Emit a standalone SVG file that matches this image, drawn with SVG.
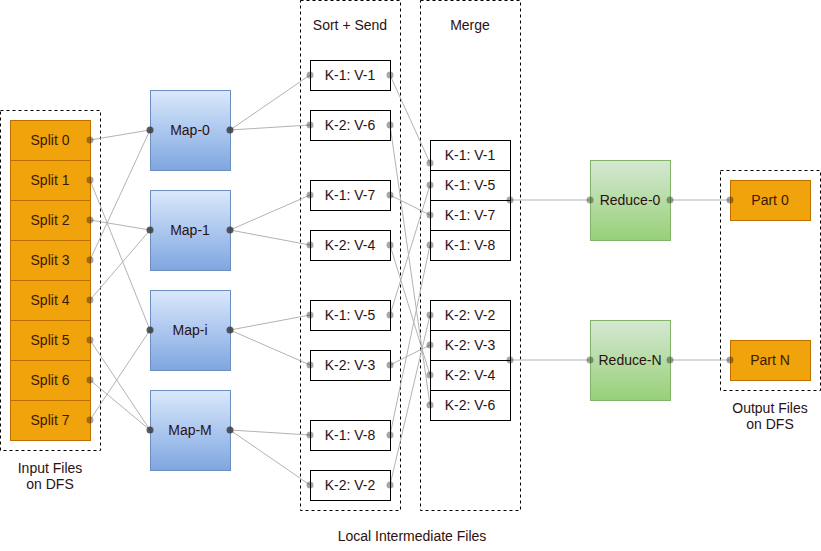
<svg xmlns="http://www.w3.org/2000/svg" width="821" height="551" viewBox="0 0 821 551">
<defs>
<linearGradient id="gBlue" x1="0" y1="0" x2="0" y2="1"><stop offset="0" stop-color="#dae8fc"/><stop offset="1" stop-color="#7ea6e0"/></linearGradient>
<linearGradient id="gGreen" x1="0" y1="0" x2="0" y2="1"><stop offset="0" stop-color="#d5e8d4"/><stop offset="1" stop-color="#97d077"/></linearGradient>
</defs>
<style>
text{font-family:"Liberation Sans",Arial,sans-serif;font-size:14px;fill:#2b1111;text-anchor:middle;dominant-baseline:central}
.grp{fill:none;stroke:#000;stroke-dasharray:3 3;stroke-width:1}
.split{fill:#f0a30a;stroke:#bd7000}
.split-t{fill:#3a1a00}
.map{fill:url(#gBlue);stroke:#6c8ebf}
.red{fill:url(#gGreen);stroke:#82b366}
.kv{fill:#fff;stroke:#000}
.c{fill:none;stroke:#b3b3b3;stroke-width:1}
.d{fill:#000;fill-opacity:0.35}
.dm{fill:#333;fill-opacity:0.8}
</style>
<rect class="grp" x="0.5" y="110.5" width="100" height="340"/>
<rect class="grp" x="300.5" y="0.5" width="100" height="510"/>
<rect class="grp" x="420.5" y="0.5" width="100" height="510"/>
<rect class="grp" x="720.5" y="170.5" width="100" height="220"/>
<text x="350" y="25">Sort + Send</text>
<text x="470" y="25">Merge</text>
<text x="50" y="468">Input Files</text>
<text x="50" y="484">on DFS</text>
<text x="770" y="408">Output Files</text>
<text x="770" y="424">on DFS</text>
<text x="412" y="536">Local Intermediate Files</text>

<g id="connectors">
<path class="c" d="M90 140L150 130M90 180L150 330M90 220L150 230M90 260L150 130M90 300L150 230M90 340L150 430M90 380L150 430M90 420L150 330"/>
<path class="c" d="M230 130L310 75M230 130L310 125M230 230L310 195M230 230L310 245M230 330L310 315M230 330L310 365M230 430L310 435M230 430L310 485"/>
<path class="c" d="M390 75L430 163M390 125L430 405M390 195L430 215M390 245L430 375M390 315L430 185M390 365L430 345M390 435L430 245M390 485L430 315"/>
<path class="c" d="M510 200L590 200M670 200L730 200M510 360L590 360M670 360L730 360"/>
</g>

<g id="splits">
<g id="split0"><rect class="split" x="10.5" y="120.5" width="80" height="40"/><text class="split-t" x="50" y="140">Split 0</text></g>
<g id="split1"><rect class="split" x="10.5" y="160.5" width="80" height="40"/><text class="split-t" x="50" y="180">Split 1</text></g>
<g id="split2"><rect class="split" x="10.5" y="200.5" width="80" height="40"/><text class="split-t" x="50" y="220">Split 2</text></g>
<g id="split3"><rect class="split" x="10.5" y="240.5" width="80" height="40"/><text class="split-t" x="50" y="260">Split 3</text></g>
<g id="split4"><rect class="split" x="10.5" y="280.5" width="80" height="40"/><text class="split-t" x="50" y="300">Split 4</text></g>
<g id="split5"><rect class="split" x="10.5" y="320.5" width="80" height="40"/><text class="split-t" x="50" y="340">Split 5</text></g>
<g id="split6"><rect class="split" x="10.5" y="360.5" width="80" height="40"/><text class="split-t" x="50" y="380">Split 6</text></g>
<g id="split7"><rect class="split" x="10.5" y="400.5" width="80" height="40"/><text class="split-t" x="50" y="420">Split 7</text></g>
</g>

<g id="map0"><rect class="map" x="150.5" y="90.5" width="80" height="80"/><text x="190" y="130">Map-0</text></g>
<g id="map1"><rect class="map" x="150.5" y="190.5" width="80" height="80"/><text x="190" y="230">Map-1</text></g>
<g id="mapi"><rect class="map" x="150.5" y="290.5" width="80" height="80"/><text x="190" y="330">Map-i</text></g>
<g id="mapM"><rect class="map" x="150.5" y="390.5" width="80" height="80"/><text x="190" y="430">Map-M</text></g>

<g id="sort">
<g id="s-k1v1"><rect class="kv" x="310.5" y="60.5" width="80" height="30"/><text x="350" y="75">K-1: V-1</text></g>
<g id="s-k2v6"><rect class="kv" x="310.5" y="110.5" width="80" height="30"/><text x="350" y="125">K-2: V-6</text></g>
<g id="s-k1v7"><rect class="kv" x="310.5" y="180.5" width="80" height="30"/><text x="350" y="195">K-1: V-7</text></g>
<g id="s-k2v4"><rect class="kv" x="310.5" y="230.5" width="80" height="30"/><text x="350" y="245">K-2: V-4</text></g>
<g id="s-k1v5"><rect class="kv" x="310.5" y="300.5" width="80" height="30"/><text x="350" y="315">K-1: V-5</text></g>
<g id="s-k2v3"><rect class="kv" x="310.5" y="350.5" width="80" height="30"/><text x="350" y="365">K-2: V-3</text></g>
<g id="s-k1v8"><rect class="kv" x="310.5" y="420.5" width="80" height="30"/><text x="350" y="435">K-1: V-8</text></g>
<g id="s-k2v2"><rect class="kv" x="310.5" y="470.5" width="80" height="30"/><text x="350" y="485">K-2: V-2</text></g>
</g>

<g id="merge">
<g id="m-k1v1"><rect class="kv" x="430.5" y="140.5" width="80" height="30"/><text x="470" y="155">K-1: V-1</text></g>
<g id="m-k1v5"><rect class="kv" x="430.5" y="170.5" width="80" height="30"/><text x="470" y="185">K-1: V-5</text></g>
<g id="m-k1v7"><rect class="kv" x="430.5" y="200.5" width="80" height="30"/><text x="470" y="215">K-1: V-7</text></g>
<g id="m-k1v8"><rect class="kv" x="430.5" y="230.5" width="80" height="30"/><text x="470" y="245">K-1: V-8</text></g>
<g id="m-k2v2"><rect class="kv" x="430.5" y="300.5" width="80" height="30"/><text x="470" y="315">K-2: V-2</text></g>
<g id="m-k2v3"><rect class="kv" x="430.5" y="330.5" width="80" height="30"/><text x="470" y="345">K-2: V-3</text></g>
<g id="m-k2v4"><rect class="kv" x="430.5" y="360.5" width="80" height="30"/><text x="470" y="375">K-2: V-4</text></g>
<g id="m-k2v6"><rect class="kv" x="430.5" y="390.5" width="80" height="30"/><text x="470" y="405">K-2: V-6</text></g>
</g>

<g id="reduce0"><rect class="red" x="590.5" y="160.5" width="80" height="80"/><text x="630" y="200">Reduce-0</text></g>
<g id="reduceN"><rect class="red" x="590.5" y="320.5" width="80" height="80"/><text x="630" y="360">Reduce-N</text></g>

<g id="part0"><rect class="split" x="730.5" y="180.5" width="80" height="40"/><text class="split-t" x="770" y="200">Part 0</text></g>
<g id="partN"><rect class="split" x="730.5" y="340.5" width="80" height="40"/><text class="split-t" x="770" y="360">Part N</text></g>

<g id="dots">
<g class="d">
<circle cx="90" cy="140" r="3.5"/><circle cx="90" cy="180" r="3.5"/><circle cx="90" cy="220" r="3.5"/><circle cx="90" cy="260" r="3.5"/>
<circle cx="90" cy="300" r="3.5"/><circle cx="90" cy="340" r="3.5"/><circle cx="90" cy="380" r="3.5"/><circle cx="90" cy="420" r="3.5"/>
<circle cx="310" cy="75" r="3.5"/><circle cx="390" cy="75" r="3.5"/><circle cx="310" cy="125" r="3.5"/><circle cx="390" cy="125" r="3.5"/>
<circle cx="310" cy="195" r="3.5"/><circle cx="390" cy="195" r="3.5"/><circle cx="310" cy="245" r="3.5"/><circle cx="390" cy="245" r="3.5"/>
<circle cx="310" cy="315" r="3.5"/><circle cx="390" cy="315" r="3.5"/><circle cx="310" cy="365" r="3.5"/><circle cx="390" cy="365" r="3.5"/>
<circle cx="310" cy="435" r="3.5"/><circle cx="390" cy="435" r="3.5"/><circle cx="310" cy="485" r="3.5"/><circle cx="390" cy="485" r="3.5"/>
<circle cx="430" cy="163" r="3.5"/><circle cx="430" cy="185" r="3.5"/><circle cx="430" cy="215" r="3.5"/><circle cx="430" cy="245" r="3.5"/>
<circle cx="430" cy="315" r="3.5"/><circle cx="430" cy="345" r="3.5"/><circle cx="430" cy="375" r="3.5"/><circle cx="430" cy="405" r="3.5"/>
<circle cx="510" cy="200" r="3.5"/><circle cx="510" cy="360" r="3.5"/>
<circle cx="590" cy="200" r="3.5"/><circle cx="670" cy="200" r="3.5"/><circle cx="590" cy="360" r="3.5"/><circle cx="670" cy="360" r="3.5"/>
<circle cx="730" cy="200" r="3.5"/><circle cx="730" cy="360" r="3.5"/>
</g>
<g class="dm">
<circle cx="150" cy="130" r="3.5"/><circle cx="230" cy="130" r="3.5"/><circle cx="150" cy="230" r="3.5"/><circle cx="230" cy="230" r="3.5"/>
<circle cx="150" cy="330" r="3.5"/><circle cx="230" cy="330" r="3.5"/><circle cx="150" cy="430" r="3.5"/><circle cx="230" cy="430" r="3.5"/>
</g>
</g>
</svg>
